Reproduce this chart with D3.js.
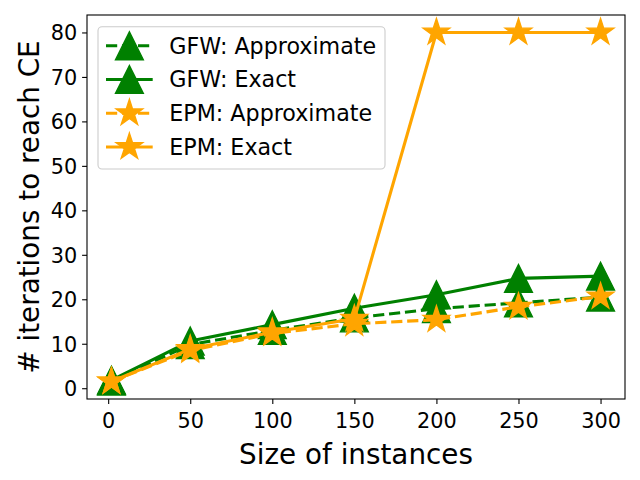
<!DOCTYPE html>
<html>
<head>
<meta charset="utf-8">
<script src="https://cdn.jsdelivr.net/npm/d3@7"></script>
<style>
  html, body { margin: 0; padding: 0; background: #fff; }
  svg { display: block; font-family: "DejaVu Sans", sans-serif; }
</style>
</head>
<body>
<script>
// ---- data ----
const xValues   = [2, 50, 100, 150, 200, 250, 300];
const gfwApprox = [1.6, 9.8, 13.0, 15.8, 17.9, 19.2, 20.5];
const gfwExact  = [1.8, 10.6, 14.3, 18.0, 21.0, 24.7, 25.2];
const epmApprox = [1.5, 8.5, 12.3, 14.5, 15.4, 18.3, 20.6];
const epmExact  = [1.5, 8.8, 12.6, 15.6, 80, 80, 80];
const xTicks = [0, 50, 100, 150, 200, 250, 300];
const yTicks = [0, 10, 20, 30, 40, 50, 60, 70, 80];
const seriesNames = ["GFW: Approximate", "GFW: Exact", "EPM: Approximate", "EPM: Exact"];

const W = 640, H = 480;
const pLeft = 87, pRight = 625, pTop = 15, pBottom = 399;

const series = [
  {name: seriesNames[0], values: gfwApprox, color: "#008000", dashed: true,  marker: "tri"},
  {name: seriesNames[1], values: gfwExact,  color: "#008000", dashed: false, marker: "tri"},
  {name: seriesNames[2], values: epmApprox, color: "#ffa500", dashed: true,  marker: "star"},
  {name: seriesNames[3], values: epmExact,  color: "#ffa500", dashed: false, marker: "star"}
];

const xMin = d3.min(xValues), xMax = d3.max(xValues);
const xPad = 0.05 * (xMax - xMin);
const x = d3.scaleLinear().domain([xMin - xPad, xMax + xPad]).range([pLeft, pRight]);
const allY = [].concat(gfwApprox, gfwExact, epmApprox, epmExact);
const yMin = d3.min(allY), yMax = d3.max(allY);
const yPad = 0.05 * (yMax - yMin);
const y = d3.scaleLinear().domain([yMin - yPad, yMax + yPad]).range([pBottom, pTop]);

const svg = d3.select("body").append("svg").attr("width", W).attr("height", H);
svg.append("rect").attr("width", W).attr("height", H).attr("fill", "#fff");

const LW = 3.1;
const dash = "11.2,4.8";
const MS = 13.9; // half marker size in px

function starPath(r) {
  const pts = d3.range(10).map(i => {
    const rad = i % 2 === 0 ? r : r * 0.381966;
    const a = -Math.PI / 2 + i * Math.PI / 5;
    return [rad * Math.cos(a), rad * Math.sin(a)];
  });
  return "M" + pts.map(p => p[0].toFixed(2) + "," + p[1].toFixed(2)).join("L") + "Z";
}
function triPath(h) {
  return `M0,${-h}L${-h},${h}L${h},${h}Z`;
}
function markerPath(m) { return m === "tri" ? triPath(MS) : starPath(MS); }

// clip
svg.append("clipPath").attr("id", "clip").append("rect")
  .attr("x", pLeft).attr("y", pTop).attr("width", pRight - pLeft).attr("height", pBottom - pTop);

const plot = svg.append("g").attr("clip-path", "url(#clip)");
const line = d3.line().x((d, i) => x(xValues[i])).y(d => y(d));

series.forEach(s => {
  plot.append("path")
    .attr("d", line(s.values))
    .attr("fill", "none")
    .attr("stroke", s.color)
    .attr("stroke-width", LW)
    .attr("stroke-dasharray", s.dashed ? dash : null)
    .attr("stroke-linejoin", "round")
    .attr("stroke-linecap", s.dashed ? "butt" : "square");
  plot.selectAll(null).data(s.values).enter().append("path")
    .attr("d", markerPath(s.marker))
    .attr("transform", (d, i) => `translate(${x(xValues[i])},${y(d)})`)
    .attr("fill", s.color)
    .attr("stroke", s.color)
    .attr("stroke-width", 1.4)
    .attr("stroke-linejoin", "miter");
});

// axes
const xAxis = d3.axisBottom(x).tickValues(xTicks).tickSize(4.9).tickPadding(4.9).tickFormat(d3.format("d"));
const yAxis = d3.axisLeft(y).tickValues(yTicks).tickSize(4.9).tickPadding(4.9).tickFormat(d3.format("d"));

const gx = svg.append("g").attr("transform", `translate(0,${pBottom})`).call(xAxis);
gx.select(".domain").remove();
gx.selectAll(".tick line").attr("stroke", "#000").attr("stroke-width", 1.1);
gx.selectAll(".tick text").attr("font-size", "20.8px").attr("fill", "#000")
  .attr("font-family", "DejaVu Sans").attr("dy", null).attr("y", 29);

const gy = svg.append("g").attr("transform", `translate(${pLeft},0)`).call(yAxis);
gy.select(".domain").remove();
gy.selectAll(".tick line").attr("stroke", "#000").attr("stroke-width", 1.1);
gy.selectAll(".tick text").attr("font-size", "20.8px").attr("fill", "#000")
  .attr("font-family", "DejaVu Sans").attr("dy", "0.36em");

// spines
svg.append("rect").attr("x", pLeft).attr("y", pTop).attr("width", pRight - pLeft).attr("height", pBottom - pTop)
  .attr("fill", "none").attr("stroke", "#000").attr("stroke-width", 1.1);

// axis labels
svg.append("text").attr("x", (pLeft + pRight) / 2).attr("y", 463.5)
  .attr("text-anchor", "middle").attr("font-size", "27.8px").attr("fill", "#000")
  .text("Size of instances");
svg.append("text")
  .attr("transform", `translate(38.5,${(pTop + pBottom) / 2}) rotate(-90)`)
  .attr("text-anchor", "middle").attr("font-size", "27.8px").attr("fill", "#000")
  .text("# iterations to reach CE");

// legend
const lg = svg.append("g");
lg.append("rect").attr("x", 98).attr("y", 26.7).attr("width", 287).attr("height", 142.3)
  .attr("rx", 4).attr("ry", 4)
  .attr("fill", "#fff").attr("fill-opacity", 0.8)
  .attr("stroke", "#cccccc").attr("stroke-width", 1.1);
const rowY = [45.8, 79.5, 113.2, 147];
series.forEach((s, i) => {
  const g = lg.append("g").attr("transform", `translate(0,${rowY[i]})`);
  g.append("line").attr("x1", 106).attr("x2", 152.7).attr("y1", 0).attr("y2", 0)
    .attr("stroke", s.color).attr("stroke-width", LW)
    .attr("stroke-dasharray", s.dashed ? dash : null);
  g.append("path").attr("d", markerPath(s.marker))
    .attr("transform", `translate(129.4,0)`)
    .attr("fill", s.color).attr("stroke", s.color).attr("stroke-width", 1.4);
  g.append("text").attr("x", 169.3).attr("y", 7.8)
    .attr("font-size", "22.2px").attr("fill", "#000").text(s.name);
});
</script>
</body>
</html>
